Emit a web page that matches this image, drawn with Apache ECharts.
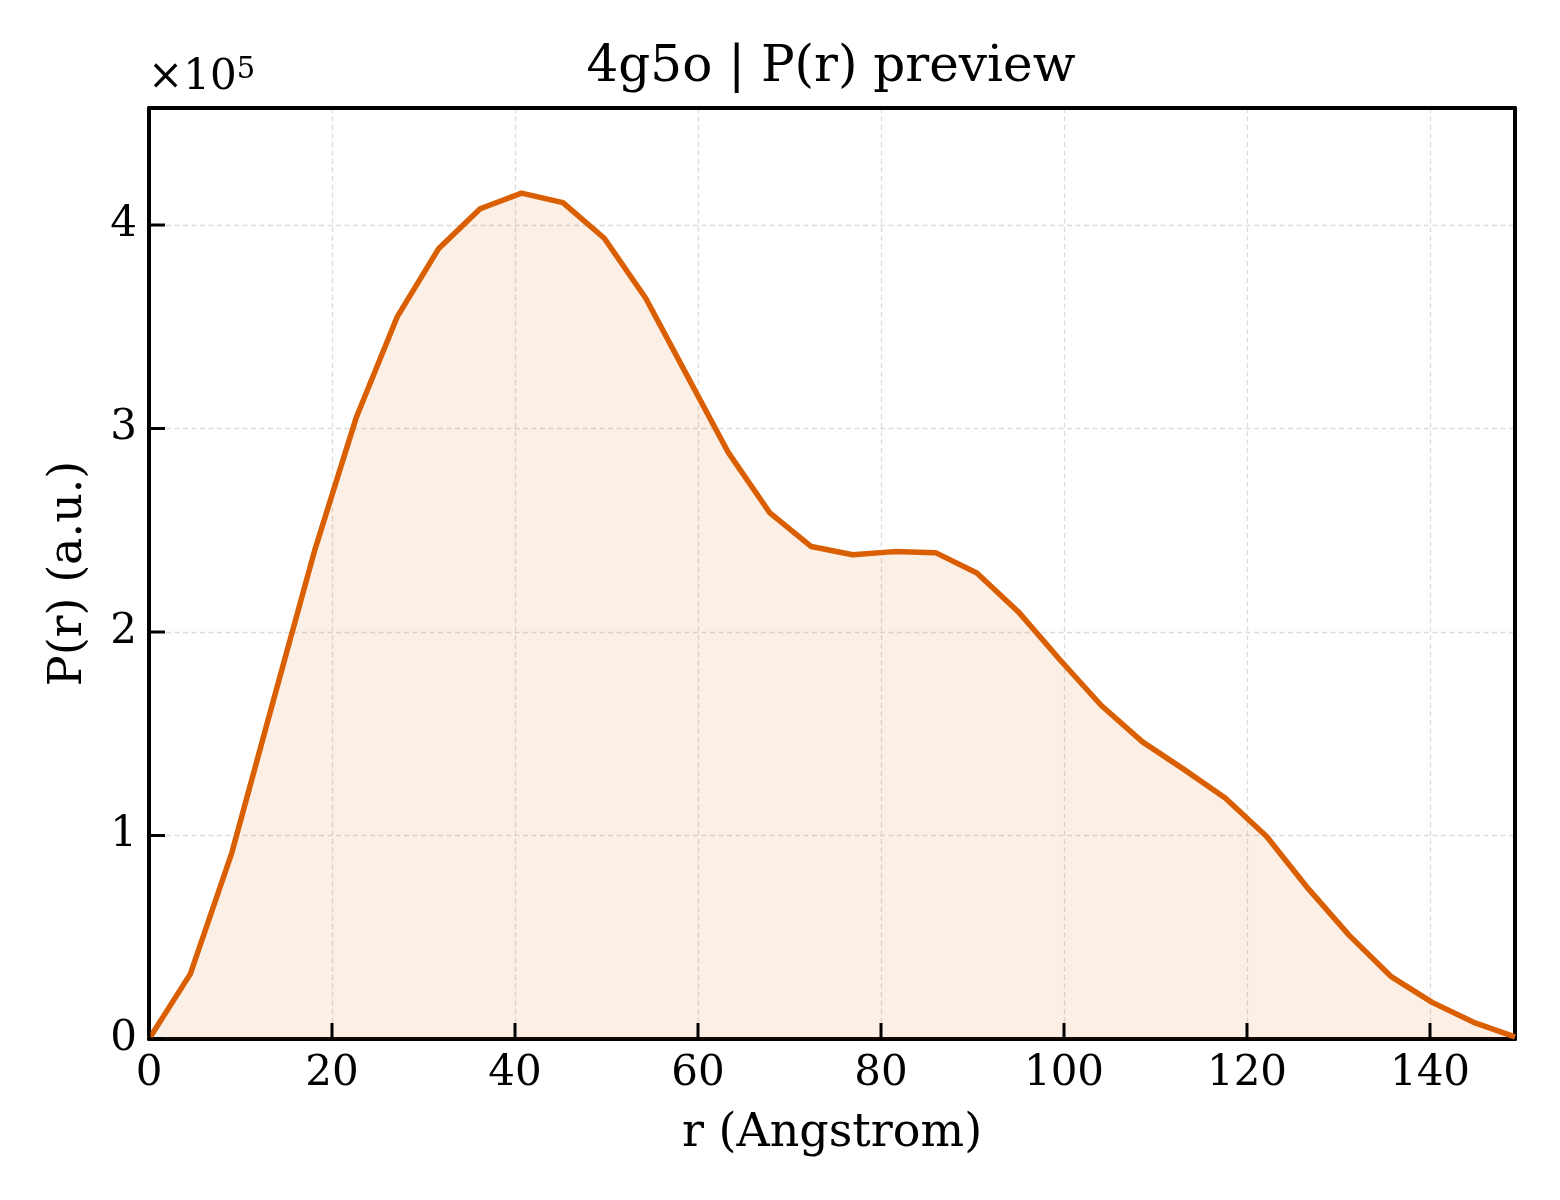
<!DOCTYPE html>
<html>
<head>
<meta charset="utf-8">
<script src="https://cdn.jsdelivr.net/npm/echarts@6/dist/echarts.min.js"></script>
<style>
  html, body { margin: 0; padding: 0; background: #fff; }
  #chart { width: 1560px; height: 1200px; }
</style>
</head>
<body>
<div id="chart"></div>
<script>
// r in Angstrom
const rValues = [0, 4.52, 9.05, 13.57, 18.10, 22.62, 27.14, 31.67, 36.19, 40.72,
  45.24, 49.76, 54.29, 58.81, 63.34, 67.86, 72.38, 76.91, 81.43, 85.96,
  90.48, 95.00, 99.53, 104.05, 108.58, 113.10, 117.62, 122.15, 126.67, 131.20,
  135.72, 140.24, 144.77, 149.29]
// P(r), arbitrary units
const prValues = [0, 32000, 91500, 166000, 240000, 305000, 355000, 388500, 408000, 415700,
  411000, 393500, 364000, 326000, 288000, 258500, 242000, 238000, 239500, 239000,
  229000, 210000, 186500, 164000, 146000, 132500, 118400, 99500, 74000, 50800,
  30800, 18000, 8200, 1000]
const xTicks = [0, 20, 40, 60, 80, 100, 120, 140]
const yTicks = [0, 100000, 200000, 300000, 400000]

const font = 'DejaVu Serif'
const lineColor = '#d95f02'
const xMax = rValues[rValues.length - 1]
const yMax = 457500

let chart = echarts.init(document.getElementById('chart'))

const gridLine = {
    show: true,
    showMinLine: false,
    showMaxLine: false,
    lineStyle: { color: '#dcdcdc', width: 1.3, type: [5, 3.5] }
}
const spine = () => ({ show: true, onZero: false, lineStyle: { color: '#000', width: 4 } })
// top and right spines: line only
const bareAxis = (pos, max) => ({
    type: 'value', position: pos, min: 0, max: max, axisLine: spine(),
    axisTick: { show: false }, axisLabel: { show: false }, splitLine: { show: false }
})

// inward tick marks, placed through the axis scales
const tickMark = (isX) => (params, api) => {
    const v = api.value(0)
    const p = isX ? api.coord([v, 0]) : api.coord([0, v])
    return {
        type: 'line',
        shape: isX ? { x1: p[0], y1: p[1], x2: p[0], y2: p[1] - 16 }
                   : { x1: p[0], y1: p[1], x2: p[0] + 16, y2: p[1] },
        style: { stroke: '#000', lineWidth: 3 }
    }
}

chart.setOption({
    backgroundColor: '#fff',
    textStyle: { fontFamily: font, color: '#000' },
    title: {
        text: '4g5o | P(r) preview',
        left: 826,
        textAlign: 'center',
        top: 38,
        textStyle: { fontFamily: font, fontSize: 50, fontWeight: 'normal', color: '#000' }
    },
    graphic: [{
        type: 'text',
        left: 148,
        top: 56,
        style: {
            text: '×10{s|5}',
            font: '42px "DejaVu Serif"',
            fill: '#000',
            rich: {
                s: { fontSize: 29, fontFamily: font, verticalAlign: 'top', padding: [0, 0, 16, 0] }
            }
        }
    }],
    grid: { left: 149, right: 45, top: 108, bottom: 161, show: false },
    xAxis: [{
        type: 'value',
        position: 'bottom',
        min: 0,
        max: xMax,
        interval: 20,
        name: 'r (Angstrom)',
        nameLocation: 'middle',
        nameGap: 72,
        nameTextStyle: { fontFamily: font, fontSize: 46, color: '#000' },
        axisLine: spine(),
        axisTick: { show: false },
        axisLabel: { margin: 14, fontFamily: font, fontSize: 42, color: '#000',
            formatter: v => xTicks.includes(v) ? String(v) : '' },
        splitLine: gridLine
    }, bareAxis('top', xMax)],
    yAxis: [{
        type: 'value',
        position: 'left',
        min: 0,
        max: yMax,
        interval: 100000,
        name: 'P(r) (a.u.)',
        nameLocation: 'middle',
        nameRotate: 90,
        nameGap: 57,
        nameTextStyle: { fontFamily: font, fontSize: 46, color: '#000' },
        axisLine: spine(),
        axisTick: { show: false },
        axisLabel: { margin: 12, fontFamily: font, fontSize: 42, color: '#000',
            formatter: v => yTicks.includes(v) ? String(v / 100000) : '' },
        splitLine: gridLine
    }, bareAxis('right', yMax)],
    series: [{
        type: 'line',
        data: rValues.map((r, i) => [r, prValues[i]]),
        showSymbol: false,
        smooth: false,
        lineStyle: { color: lineColor, width: 5.5 },
        itemStyle: { color: lineColor },
        areaStyle: { color: 'rgba(217,95,2,0.14)' },
        animation: false
    }, {
        type: 'custom',
        data: xTicks.map(v => [v]),
        renderItem: tickMark(true),
        clip: false,
        silent: true,
        animation: false,
        z: 10
    }, {
        type: 'custom',
        data: yTicks.map(v => [v]),
        renderItem: tickMark(false),
        clip: false,
        silent: true,
        animation: false,
        z: 10
    }]
})
</script>
</body>
</html>
